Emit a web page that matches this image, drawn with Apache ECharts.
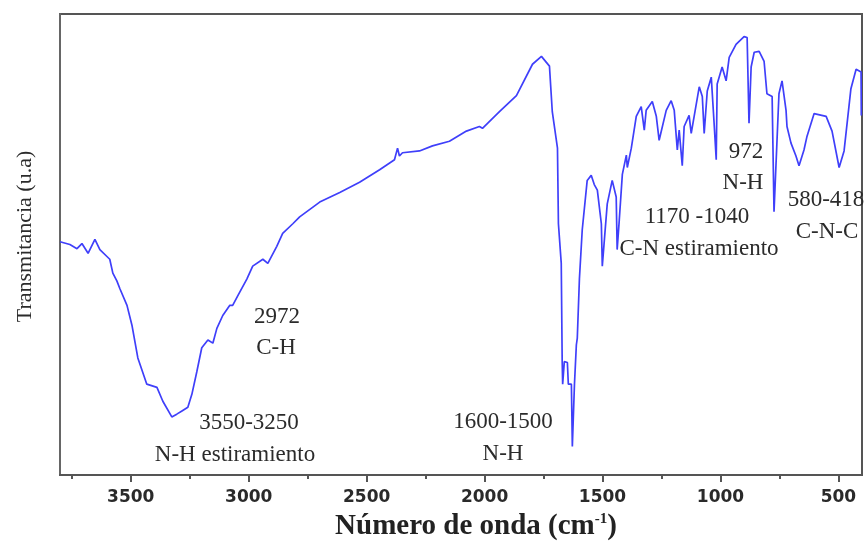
<!DOCTYPE html>
<html>
<head>
<meta charset="utf-8">
<script src="https://cdn.jsdelivr.net/npm/echarts@6/dist/echarts.min.js"></script>
<style>
  html, body { margin: 0; padding: 0; background: #fff; }
  #chart { width: 868px; height: 546px; }
</style>
</head>
<body>
<div id="chart"></div>
<script>
// wavenumber (cm-1), high to low
const wavenumber = [
  3800, 3758, 3728, 3707, 3681, 3652, 3631, 3601, 3589, 3576, 3559, 3546, 3516, 3495, 3470, 3432,
  3389, 3364, 3326, 3305, 3283, 3258, 3241, 3220, 3199, 3173, 3152, 3135, 3110, 3080, 3068, 3046,
  3008, 2983, 2940, 2919, 2881, 2856, 2813, 2784, 2699, 2614, 2530, 2445, 2382, 2369, 2361, 2348,
  2276, 2221, 2149, 2077, 2022, 2009, 1937, 1865, 1797, 1759, 1725, 1713, 1691, 1687, 1675, 1671,
  1669, 1662, 1649, 1645, 1632, 1628, 1619, 1611, 1607, 1598, 1586, 1565, 1548, 1535, 1522, 1505,
  1501, 1492, 1480, 1459, 1442, 1438, 1429, 1416, 1399, 1395, 1378, 1357, 1336, 1323, 1315, 1289,
  1272, 1260, 1230, 1209, 1196, 1183, 1175, 1162, 1154, 1133, 1124, 1090, 1077, 1069, 1056, 1039,
  1027, 1018, 1014, 993, 976, 963, 934, 900, 887, 879, 870, 857, 836, 815, 803, 781,
  773, 752, 739, 722, 718, 701, 680, 667, 646, 633, 603, 595, 552, 527, 497, 476,
  447, 425, 404, 403
]
// transmittance (arbitrary units, 0 = bottom of frame, 100 = top)
const transmittance = [
  50.6, 50.0, 49.1, 50.2, 48.1, 51.1, 48.9, 47.4, 46.8, 43.8, 42.1, 40.4, 36.8, 32.5, 25.4, 19.7,
  19.0, 16.0, 12.6, 13.2, 13.9, 14.7, 17.5, 22.4, 27.6, 29.3, 28.6, 31.8, 34.6, 36.8, 36.8, 38.9,
  42.5, 45.3, 46.8, 45.9, 49.6, 52.4, 54.5, 56.0, 59.2, 61.3, 63.5, 66.2, 68.4, 70.9, 69.2, 69.9,
  70.3, 71.4, 72.4, 74.6, 75.6, 75.2, 78.8, 82.3, 89.1, 90.8, 88.7, 78.8, 70.9, 54.5, 45.9, 24.6,
  19.7, 24.6, 24.4, 19.7, 19.7, 6.2, 19.7, 28.2, 29.7, 42.5, 53.2, 63.9, 65.0, 63.0, 61.8, 54.5,
  45.3, 51.1, 58.8, 63.9, 60.3, 48.9, 55.3, 65.2, 69.4, 66.7, 70.9, 77.8, 79.9, 74.8, 79.1, 81.0,
  77.8, 72.6, 79.1, 81.2, 79.1, 70.5, 74.8, 67.1, 75.6, 78.0, 74.1, 84.2, 82.1, 74.1, 83.3, 86.3,
  76.3, 68.4, 84.8, 88.5, 85.5, 90.6, 93.4, 95.1, 94.9, 76.3, 88.5, 91.7, 91.9, 89.7, 82.7, 82.1,
  57.1, 82.7, 85.5, 79.1, 75.6, 72.0, 69.2, 67.1, 70.5, 73.5, 78.4, 78.0, 77.8, 74.6, 66.7, 70.3,
  83.8, 88.0, 87.4, 78.0
]
const majorTicks = [500, 1000, 1500, 2000, 2500, 3000, 3500]
const minorTicks = [750, 1250, 1750, 2250, 2750, 3250, 3750]

// band annotations: [text line 1, text line 2]
const bandNotes = [
  ['2972', 'C-H'],
  ['3550-3250', 'N-H estiramiento'],
  ['1600-1500', 'N-H'],
  ['1170 -1040', 'C-N estiramiento'],
  ['972', 'N-H'],
  ['580-418', 'C-N-C']
]
const notePos = [[277, 317, 276, 348], [249, 423, 235, 455], [503, 422, 503, 454],
  [697, 217, 699, 249], [746, 152, 743, 183], [826, 200, 827, 232]]

const chart = echarts.init(document.getElementById('chart'))

const seriesData = wavenumber.map((w, i) => [w, transmittance[i]])

const noteText = []
bandNotes.forEach((n, i) => {
  const p = notePos[i]
  const st = { fontFamily: 'Liberation Serif', fontSize: 23, fill: '#2b2b2b', textAlign: 'center', textVerticalAlign: 'middle' }
  noteText.push({ type: 'text', x: p[0], y: p[1], style: Object.assign({ text: n[0] }, st) })
  noteText.push({ type: 'text', x: p[2], y: p[3], style: Object.assign({ text: n[1] }, st) })
})

const option = {
  animation: false,
  grid: {
    show: true,
    left: 60,
    right: 6,
    top: 14,
    bottom: 63,
    borderColor: '#555',
    borderWidth: 2
  },
  xAxis: [
    {
      type: 'value',
      min: 400,
      max: 3800,
      inverse: true,
      name: '{a|Número de onda (cm}{s|-1}{a|)}',
      nameLocation: 'middle',
      nameGap: 37,
      nameTextStyle: {
        padding: [0, 0, 0, 30],
        rich: {
          a: { fontFamily: 'Liberation Serif', fontSize: 29, fontWeight: 'bold', color: '#222' },
          s: { fontFamily: 'Liberation Serif', fontSize: 15, fontWeight: 'bold', color: '#222', verticalAlign: 'top', padding: [0, 0, 12, 0] }
        }
      },
      splitLine: { show: false },
      axisLine: { lineStyle: { color: '#555', width: 2 } },
      axisTick: { customValues: majorTicks, length: 7, lineStyle: { color: '#555', width: 2 } },
      axisLabel: {
        customValues: majorTicks,
        formatter: v => String(v),
        margin: 14,
        fontFamily: 'DejaVu Sans',
        fontWeight: 'bold',
        fontSize: 17,
        color: '#2a2a2a'
      }
    },
    {
      type: 'value',
      min: 400,
      max: 3800,
      inverse: true,
      position: 'bottom',
      splitLine: { show: false },
      axisLine: { show: false },
      axisTick: { customValues: minorTicks, length: 4, lineStyle: { color: '#555', width: 2 } },
      axisLabel: { show: false }
    }
  ],
  yAxis: {
    type: 'value',
    min: 0,
    max: 100,
    name: 'Transmitancia (u.a)',
    nameLocation: 'middle',
    nameGap: 24,
    nameTextStyle: { fontFamily: 'Liberation Serif', fontSize: 22, color: '#2b2b2b', padding: [0, 0, 0, 16] },
    splitLine: { show: false },
    axisLine: { show: true, lineStyle: { color: '#666', width: 2 } },
    axisTick: { show: false },
    axisLabel: { show: false }
  },
  series: [
    {
      type: 'line',
      data: seriesData,
      showSymbol: false,
      lineStyle: { color: '#3f3ffa', width: 1.7 }
    }
  ],
  graphic: noteText
}

chart.setOption(option)
</script>
</body>
</html>
